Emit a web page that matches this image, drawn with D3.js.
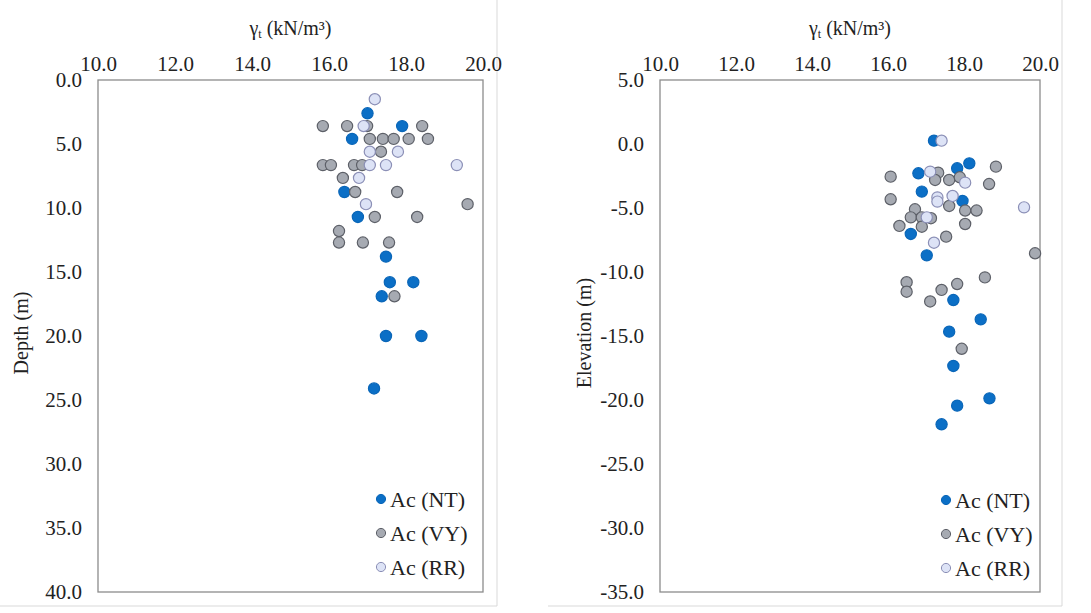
<!DOCTYPE html>
<html>
<head>
<meta charset="utf-8">
<script src="https://cdn.jsdelivr.net/npm/d3@7"></script>
<style>
  html, body { margin: 0; padding: 0; background: #ffffff; }
  svg { display: block; }
  text { font-family: "Liberation Serif", "Times New Roman", serif; fill: #222; }
</style>
</head>
<body>
<svg id="chart" width="1091" height="613"></svg>
<script>
// Unit weight γt (kN/m³) against depth and elevation, clay layer Ac, three sites.
const gammaTicks = [10, 12, 14, 16, 18, 20];
const depthTicks = [0, 5, 10, 15, 20, 25, 30, 35, 40];
const elevTicks = [5, 0, -5, -10, -15, -20, -25, -30, -35];
const seriesNames = ["Ac (NT)", "Ac (VY)", "Ac (RR)"];

// [γt, depth (m)]
const depthNT = [[17.0, 2.6], [17.9, 3.6], [16.6, 4.6], [16.4, 8.75], [16.75, 10.7], [17.48, 13.8],
  [17.58, 15.8], [18.19, 15.8], [17.37, 16.9], [17.48, 20.0], [18.4, 20.0], [17.17, 24.1]];
const depthVY = [[15.84, 3.6], [16.47, 3.6], [16.99, 3.6], [18.42, 3.6], [17.06, 4.6], [17.4, 4.6],
  [17.68, 4.6], [18.07, 4.6], [18.57, 4.6], [17.35, 5.6], [15.84, 6.65], [16.05, 6.65], [16.65, 6.65],
  [16.86, 6.65], [16.36, 7.65], [16.68, 8.75], [17.77, 8.75], [19.6, 9.7], [17.19, 10.7], [18.29, 10.7],
  [16.26, 11.8], [16.26, 12.7], [16.88, 12.7], [17.56, 12.7], [17.7, 16.9]];
const depthRR = [[17.19, 1.5], [16.9, 3.6], [17.06, 5.6], [17.79, 5.6], [17.06, 6.65], [17.48, 6.65],
  [19.32, 6.65], [16.78, 7.65], [16.96, 9.7]];

// [γt, elevation (m)]
const elevNT = [[17.21, 0.26], [16.8, -2.29], [17.82, -1.9], [18.14, -1.51], [16.89, -3.72], [17.96, -4.45],
  [16.6, -7.03], [17.02, -8.7], [17.72, -12.19], [18.44, -13.7], [17.61, -14.66], [17.72, -17.34],
  [18.67, -19.87], [17.82, -20.44], [17.41, -21.9]];
const elevVY = [[16.07, -2.55], [17.32, -2.24], [17.24, -2.81], [17.61, -2.81], [18.84, -1.77], [17.89, -2.6],
  [18.66, -3.13], [16.07, -4.32], [17.61, -4.84], [18.03, -5.2], [18.33, -5.2], [16.71, -5.1], [16.6, -5.73],
  [16.89, -5.73], [17.13, -5.8], [16.3, -6.4], [16.89, -6.46], [18.03, -6.25], [17.53, -7.24], [19.87, -8.54],
  [16.49, -10.8], [16.49, -11.54], [17.41, -11.4], [17.82, -10.94], [18.55, -10.42], [17.11, -12.3], [17.94, -16.0]];
const elevRR = [[17.41, 0.26], [17.11, -2.16], [18.03, -3.02], [17.3, -4.17], [17.3, -4.5], [17.7, -4.06],
  [17.02, -5.73], [17.21, -7.71], [19.58, -4.95]];

const styles = [
  { fill: "#0b6fc6", stroke: "#0a66b8" },
  { fill: "#a6aab2", stroke: "#5d6068" },
  { fill: "#dde3f6", stroke: "#8b8fb6" }
];

// one decimal, plain hyphen for negatives
const fmt = d => d.toFixed(1);

const svg = d3.select("#chart");

function drawPanel(cfg) {
  const x = d3.scaleLinear().domain([10, 20]).range([cfg.left, cfg.right]);
  const y = d3.scaleLinear().domain(cfg.yDomain).range([cfg.top, cfg.bottom]);
  const g = svg.append("g");

  // outer chart-area edges
  g.append("path")
    .attr("d", `M${cfg.areaRight},${cfg.top - 80} V${cfg.areaBottom} H${cfg.areaLeft}`)
    .attr("fill", "none").attr("stroke", "#d9d9d9").attr("stroke-width", 1);

  // plot frame
  g.append("rect")
    .attr("x", cfg.left).attr("y", cfg.top)
    .attr("width", cfg.right - cfg.left).attr("height", cfg.bottom - cfg.top)
    .attr("fill", "none").attr("stroke", "#8c8c8c").attr("stroke-width", 1.3);

  // x axis on top
  const xAxis = g.append("g").attr("transform", `translate(0,${cfg.top})`)
    .call(d3.axisTop(x).tickValues(gammaTicks).tickFormat(fmt).tickSize(0).tickPadding(9));
  xAxis.select(".domain").remove();
  xAxis.selectAll("text").attr("font-size", 21).attr("fill", "#222")
    .style("font-family", "'Liberation Serif', serif");

  // y axis
  const yAxis = g.append("g").attr("transform", `translate(${cfg.left},0)`)
    .call(d3.axisLeft(y).tickValues(cfg.yTicks).tickFormat(fmt).tickSize(0).tickPadding(16));
  yAxis.select(".domain").remove();
  yAxis.selectAll("text").attr("font-size", 21).attr("fill", "#222")
    .style("font-family", "'Liberation Serif', serif");

  // x title γt (kN/m³)
  const t = g.append("text")
    .attr("x", (cfg.left + cfg.right) / 2).attr("y", 35)
    .attr("text-anchor", "middle").attr("font-size", 20);
  t.append("tspan").text("γ");
  t.append("tspan").attr("font-size", 12).attr("dy", 3).text("t");
  t.append("tspan").attr("dy", -3).text(" (kN/m³)");

  // y title
  g.append("text")
    .attr("transform", `translate(${cfg.titleX},${(cfg.top + cfg.bottom) / 2 - 3}) rotate(-90)`)
    .attr("text-anchor", "middle").attr("dy", "0.35em").attr("font-size", 20)
    .text(cfg.yTitle);

  // points: NT first, RR drawn last on top
  cfg.series.forEach((data, i) => {
    g.append("g").selectAll("circle").data(data).join("circle")
      .attr("cx", d => x(d[0])).attr("cy", d => y(d[1])).attr("r", 5.6)
      .attr("fill", styles[i].fill).attr("stroke", styles[i].stroke).attr("stroke-width", 1.2);
  });

  // legend
  const lg = g.append("g");
  seriesNames.forEach((name, i) => {
    const yy = cfg.legendY + i * 34;
    lg.append("circle").attr("cx", cfg.legendX).attr("cy", yy).attr("r", 4.6)
      .attr("fill", styles[i].fill).attr("stroke", styles[i].stroke).attr("stroke-width", 1);
    lg.append("text").attr("x", cfg.legendX + 9).attr("y", yy).attr("dy", "0.35em")
      .attr("font-size", 22).text(name);
  });
}

drawPanel({
  left: 98, right: 483, top: 80, bottom: 592,
  yDomain: [0, 40], yTicks: depthTicks, yTitle: "Depth (m)", titleX: 21,
  series: [depthNT, depthVY, depthRR],
  legendX: 381, legendY: 499,
  areaLeft: 0, areaRight: 497, areaBottom: 606
});

drawPanel({
  left: 660, right: 1040, top: 80, bottom: 592,
  yDomain: [5, -35], yTicks: elevTicks, yTitle: "Elevation (m)", titleX: 584,
  series: [elevNT, elevVY, elevRR],
  legendX: 946, legendY: 500,
  areaLeft: 548, areaRight: 1062, areaBottom: 606
});
</script>
</body>
</html>
